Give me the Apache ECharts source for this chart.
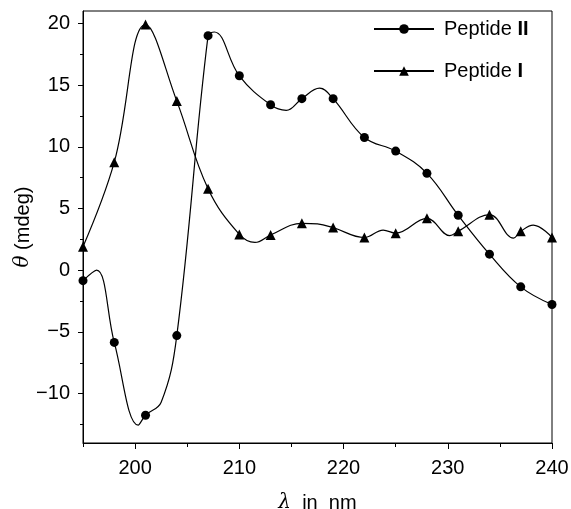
<!DOCTYPE html>
<html>
<head>
<meta charset="utf-8">
<script src="https://cdn.jsdelivr.net/npm/echarts@6/dist/echarts.min.js"></script>
<style>
  html, body { margin: 0; padding: 0; background: #fff; }
  #chart { width: 571px; height: 509px; }
</style>
</head>
<body>
<div id="chart"></div>
<script>
// measured wavelengths (nm) with markers
const wavelengths = [195, 198, 201, 204, 207, 210, 213, 216, 219, 222, 225, 228, 231, 234, 237, 240]
// ellipticity, mdeg
const peptideII = [-0.85, -5.85, -11.75, -5.3, 19.0, 15.75, 13.4, 13.9, 13.9, 10.75, 9.65, 7.85, 4.45, 1.3, -1.35, -2.78]
const peptideI = [1.9, 8.75, 19.9, 13.7, 6.6, 2.9, 2.85, 3.8, 3.45, 2.65, 3.0, 4.2, 3.15, 4.5, 3.15, 2.65]
// extra points (no marker)
const peptideIICurve = [[196.3, 0.0], [200.3, -12.55], [202.5, -10.7], [207.6, 19.3], [214.5, 12.95], [217.7, 14.75]]
const peptideICurve = [[211.5, 2.25], [217.5, 3.75], [223.8, 3.25], [230.2, 2.8], [236.3, 2.6], [238.2, 3.65]]
// axis ticks
const xTicks = [200, 210, 220, 230, 240]
const xMinorTicks = [195, 205, 215, 225, 235]
const yTicks = [-10, -5, 0, 5, 10, 15, 20]
const yMinorTicks = [-12.5, -7.5, -2.5, 2.5, 7.5, 12.5, 17.5]

const FONT = 'Liberation Sans'

// merge marker points and curve-only points, sorted by wavelength
function buildData (xs, ys, curve) {
  const pts = xs.map((x, i) => ({ value: [x, ys[i]] }))
  curve.forEach(p => pts.push({ value: p, symbol: 'none' }))
  pts.sort((a, b) => a.value[0] - b.value[0])
  return pts
}

const minus = v => String(v).replace('-', '\u2212')

let myChart = echarts.init(document.getElementById('chart'))
myChart.setOption({
  backgroundColor: '#fff',
  animation: false,
  grid: {
    left: 83,
    right: 19,
    top: 11,
    bottom: 66,
    outerBoundsMode: 'none',
    show: true,
    borderColor: '#000',
    borderWidth: 1
  },
  legend: {
    left: 373,
    top: 19,
    padding: 0,
    orient: 'vertical',
    itemWidth: 60,
    itemHeight: 12,
    itemGap: 22,
    data: ['Peptide II', 'Peptide I'],
    textStyle: {
      fontFamily: FONT,
      fontSize: 20,
      color: '#000',
      padding: [0, 0, 0, 5],
      rich: {
        n: { fontFamily: FONT, fontSize: 20, color: '#000' },
        b: { fontFamily: FONT, fontSize: 20, color: '#000', fontWeight: 'bold' }
      }
    },
    formatter: name => '{n|Peptide }{b|' + name.split(' ')[1] + '}'
  },
  xAxis: [{
    type: 'value',
    min: 195,
    max: 240,
    name: '{i|λ}  in  nm',
    nameLocation: 'middle',
    nameGap: 50,
    nameMoveOverlap: false,
    nameTextStyle: {
      fontFamily: FONT,
      fontSize: 20,
      color: '#000',
      rich: {
        i: { fontFamily: 'DejaVu Serif', fontStyle: 'italic', fontSize: 20, color: '#000' }
      }
    },
    axisLine: { onZero: false, lineStyle: { color: '#000', width: 1 } },
    axisTick: { customValues: xTicks, length: 6, lineStyle: { color: '#000' } },
    axisLabel: { customValues: xTicks, fontFamily: FONT, fontSize: 20, color: '#000', margin: 15 },
    splitLine: { show: false }
  }, {
    type: 'value',
    min: 195,
    max: 240,
    position: 'bottom',
    axisLine: { show: false, onZero: false },
    axisTick: { customValues: xMinorTicks, length: 4, lineStyle: { color: '#000' } },
    axisLabel: { show: false },
    splitLine: { show: false }
  }],
  yAxis: [{
    type: 'value',
    min: -14,
    max: 21,
    name: '{i|θ} (mdeg)',
    nameLocation: 'middle',
    nameGap: 50,
    nameMoveOverlap: false,
    nameTextStyle: {
      fontFamily: FONT,
      fontSize: 20,
      color: '#000',
      rich: {
        i: { fontFamily: 'DejaVu Serif', fontStyle: 'italic', fontSize: 20, color: '#000' }
      }
    },
    axisLine: { onZero: false, lineStyle: { color: '#000', width: 1 } },
    axisTick: { customValues: yTicks, length: 5, lineStyle: { color: '#000' } },
    axisLabel: { customValues: yTicks, fontFamily: FONT, fontSize: 20, color: '#000', margin: 13, formatter: minus },
    splitLine: { show: false }
  }, {
    type: 'value',
    min: -14,
    max: 21,
    position: 'left',
    axisLine: { show: false, onZero: false },
    axisTick: { customValues: yMinorTicks, length: 3, lineStyle: { color: '#000' } },
    axisLabel: { show: false },
    splitLine: { show: false }
  }],
  series: [{
    name: 'Peptide II',
    type: 'line',
    smooth: 0.4,
    symbol: 'circle',
    symbolSize: 9,
    color: '#000',
    lineStyle: { color: '#000', width: 1.2 },
    itemStyle: { color: '#000' },
    data: buildData(wavelengths, peptideII, peptideIICurve)
  }, {
    name: 'Peptide I',
    type: 'line',
    smooth: 0.4,
    symbol: 'triangle',
    symbolSize: 10,
    color: '#000',
    lineStyle: { color: '#000', width: 1.2 },
    itemStyle: { color: '#000' },
    data: buildData(wavelengths, peptideI, peptideICurve)
  }]
})
</script>
</body>
</html>
